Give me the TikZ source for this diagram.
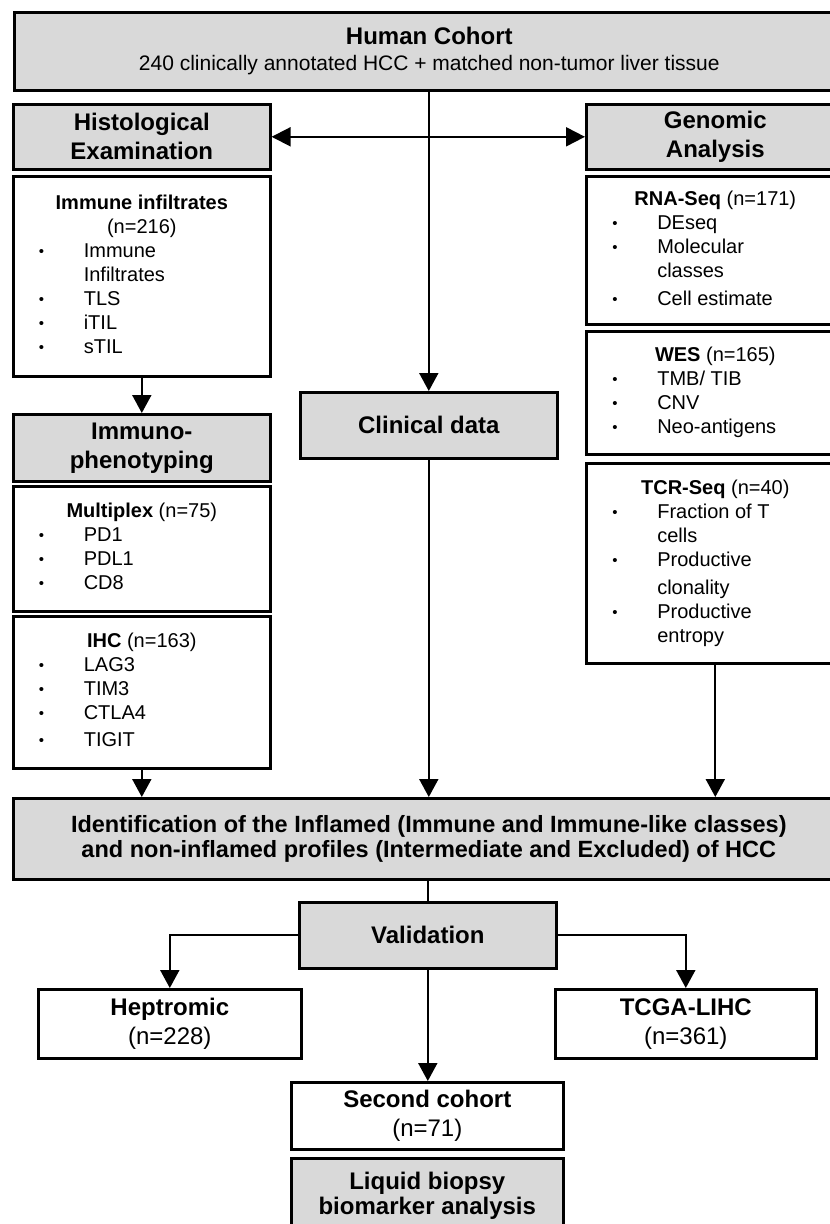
\documentclass[tikz,border=0pt]{standalone}
\usepackage{fontspec}
\setmainfont{Liberation Sans}
\usetikzlibrary{arrows.meta}

\definecolor{boxgray}{RGB}{217,217,217}
\newcommand{\bul}{\raisebox{1pt}{\fontsize{15}{15}\selectfont\textbullet}}
\newcommand{\hd}[1]{\multicolumn{2}{@{}c@{}}{#1}}

\begin{document}
\begin{tikzpicture}[
    x=1pt, y=-1pt,
    box/.style={draw, line width=2.6pt, inner sep=0pt, anchor=north west, align=center},
    head/.style={box, fill=boxgray, font=\fontsize{24}{29}\selectfont\bfseries},
    list/.style={box, fill=white, font=\fontsize{20}{24}\selectfont},
    count/.style={box, fill=white, font=\fontsize{24}{29}\selectfont},
    arrow/.style={-{Triangle[width=19pt,length=18pt]}, line width=2pt},
    both/.style={{Triangle[width=19pt,length=19pt]}-{Triangle[width=19pt,length=19pt]}, line width=2pt},
    link/.style={line width=2pt}
]
\clip (0,0) rectangle (830,1224);

% Top level: the cohort
\node[box, fill=boxgray, minimum width=830pt, minimum height=78pt,
      font=\fontsize{21}{26}\selectfont] (cohort) at (13,11)
    {{\fontsize{24}{26}\selectfont\bfseries Human Cohort}\\
     240 clinically annotated HCC + matched non-tumor liver tissue};

% Left column: histology and immunophenotyping
\node[head, minimum width=257pt, minimum height=65pt] (histo) at (12,103)
    {Histological\\Examination};
\node[list, minimum width=257pt, minimum height=200pt] (infil) at (12,175)
    {\begin{tabular}{@{}p{45pt}@{}p{161pt}@{}}
     \hd{\textbf{Immune infiltrates}}\\
     \hd{(n=216)}\\
     \bul & Immune\\
          & Infiltrates\\
     \bul & TLS\\
     \bul & iTIL\\
     \bul & sTIL
     \end{tabular}};
\node[head, minimum width=257pt, minimum height=67pt] (immuno) at (12,413)
    {Immuno-\\phenotyping};
\node[list, minimum width=257pt, minimum height=125pt] (multi) at (12,485)
    {\begin{tabular}{@{}p{45pt}@{}p{161pt}@{}}
     \hd{\textbf{Multiplex} (n=75)}\\
     \bul & PD1\\
     \bul & PDL1\\
     \bul & CD8
     \end{tabular}};
\node[list, minimum width=257pt, minimum height=152pt] (ihc) at (12,615)
    {\begin{tabular}{@{}p{45pt}@{}p{161pt}@{}}
     \hd{\textbf{IHC} (n=163)}\\
     \bul & LAG3\\
     \bul & TIM3\\
     \bul & CTLA4\\[3pt]
     \bul & TIGIT
     \end{tabular}};

% Right column: genomics
\node[head, minimum width=258pt, minimum height=65pt] (genom) at (585,103)
    {Genomic\\Analysis};
\node[list, minimum width=258pt, minimum height=148pt] (rna) at (585,175)
    {\begin{tabular}{@{}p{45pt}@{}p{161pt}@{}}
     \hd{\textbf{RNA-Seq} (n=171)}\\
     \bul & DEseq\\
     \bul & Molecular\\
          & classes\\[4pt]
     \bul & Cell estimate
     \end{tabular}};
\node[list, minimum width=258pt, minimum height=123pt] (wes) at (585,330)
    {\begin{tabular}{@{}p{45pt}@{}p{161pt}@{}}
     \hd{\textbf{WES} (n=165)}\\
     \bul & TMB/ TIB\\
     \bul & CNV\\
     \bul & Neo-antigens
     \end{tabular}};
\node[list, minimum width=258pt, minimum height=200pt] (tcr) at (585,462)
    {\begin{tabular}{@{}p{45pt}@{}p{161pt}@{}}
     \hd{\textbf{TCR-Seq} (n=40)}\\
     \bul & Fraction of T\\
          & cells\\
     \bul & Productive\\[4pt]
          & clonality\\
     \bul & Productive\\
          & entropy
     \end{tabular}};

% Middle: clinical data
\node[head, minimum width=257pt, minimum height=66pt] (clinic) at (299,391)
    {Clinical data};

% Merged profiles
\node[head, minimum width=831pt, minimum height=81pt,
      font=\fontsize{23.5}{25}\selectfont\bfseries] (profile) at (12,797)
    {Identification of the Inflamed (Immune and Immune-like classes)\\
     and non-inflamed profiles (Intermediate and Excluded) of HCC};

% Validation level
\node[head, minimum width=257pt, minimum height=66pt] (valid) at (298,901)
    {Validation};
\node[count, minimum width=263pt, minimum height=69pt] (hepto) at (37,988)
    {\textbf{Heptromic}\\(n=228)};
\node[count, minimum width=261pt, minimum height=69pt] (tcga) at (554,988)
    {\textbf{TCGA-LIHC}\\(n=361)};
\node[count, minimum width=272pt, minimum height=67pt] (second) at (290,1081)
    {\textbf{Second cohort}\\(n=71)};
\node[head, minimum width=272pt, minimum height=75pt,
      font=\fontsize{24}{25}\selectfont\bfseries] (liquid) at (290,1157)
    {Liquid biopsy\\biomarker analysis};

% Arrows from the cohort
\draw[arrow] (clinic.north |- cohort.south) -- (clinic.north);
\draw[both] (histo.east) -- (genom.west);

% Arrows down the columns
\draw[arrow] (infil.south) -- (immuno.north);
\draw[arrow] (ihc.south) -- (ihc.south |- profile.north);
\draw[arrow] (clinic.south) -- (clinic.south |- profile.north);
\draw[arrow] (tcr.south) -- (tcr.south |- profile.north);

% Arrows to the validation sets
\draw[link] (valid.north |- profile.south) -- (valid.north);
\draw[arrow] (valid.west) -| (hepto.north);
\draw[arrow] (valid.east) -| (tcga.north);
\draw[arrow] (valid.south) -- (valid.south |- second.north);

\end{tikzpicture}
\end{document}
